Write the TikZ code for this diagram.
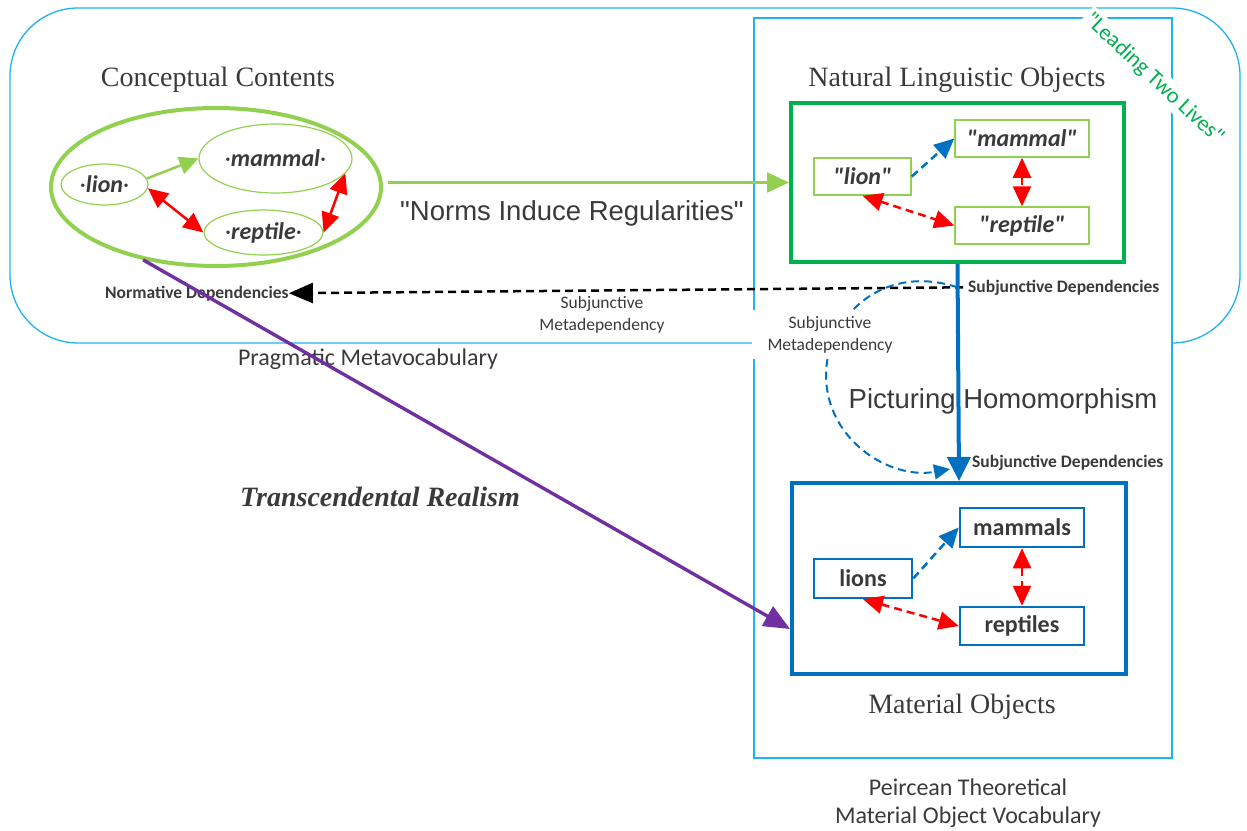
\documentclass[tikz,border=0pt]{standalone}
\usepackage{fontspec}
\setmainfont{Liberation Serif}
\newfontfamily\arialf{Liberation Sans}
\newfontfamily\calf{Carlito}
\usetikzlibrary{arrows.meta,shapes.geometric,calc}
\definecolor{lblue}{HTML}{20B2EE}
\definecolor{lgreen}{HTML}{92D050}
\definecolor{dgreen}{HTML}{00B050}
\definecolor{mblue}{HTML}{0070C0}
\definecolor{purp}{HTML}{7030A0}
\definecolor{txtgray}{HTML}{3A3A3A}
\newcommand{\mdot}{{\mdseries\upshape ·}}
\begin{document}
\begin{tikzpicture}[x=1pt,y=-1pt,
  bigtitle/.style={font=\fontsize{28}{30}\selectfont, text=txtgray, inner sep=0pt, anchor=base},
  arialtxt/.style={font=\arialf\fontsize{27.5}{30}\selectfont, text=txtgray, inner sep=0pt, anchor=base},
  caltxt/.style={font=\calf\fontsize{24}{28}\selectfont, text=txtgray, inner sep=0pt, anchor=base},
  smallbold/.style={font=\calf\bfseries\fontsize{17.5}{20}\selectfont, text=txtgray, inner sep=0pt},
  smallreg/.style={font=\calf\fontsize{17.5}{22}\selectfont, text=txtgray, align=center, inner sep=0pt},
  concept/.style={ellipse, draw=lgreen, line width=1.2pt, inner sep=0pt, font=\calf\bfseries\itshape\fontsize{24}{24}\selectfont, text=txtgray},
  wordbox/.style={rectangle, draw=lgreen, line width=1.5pt, inner sep=0pt, font=\calf\bfseries\itshape\fontsize{24}{24}\selectfont, text=txtgray},
  thingbox/.style={rectangle, draw=mblue, line width=2.5pt, inner sep=0pt, font=\calf\bfseries\fontsize{24}{24}\selectfont, text=txtgray},
  redtwo/.style={red, line width=2.5pt, {Triangle[length=20pt,width=18pt]}-{Triangle[length=20pt,width=18pt]}},
  reddash/.style={redtwo, dash pattern=on 8pt off 5pt},
  bluedash/.style={mblue, line width=2.5pt, dash pattern=on 8pt off 5pt, -{Triangle[length=20pt,width=18pt]}},
]
\useasboundingbox (0,0) rectangle (1247,830);

% containers
\draw[lblue, line width=1.3pt, rounded corners=68pt] (10,8) rectangle (1240,343);
\draw[lblue, line width=1.3pt, fill=white] (754,18) rectangle (1172,758);

% titles
\node[bigtitle] (cct) at (218,86) {Conceptual Contents};
\node[bigtitle] (nlot) at (957,86) {Natural Linguistic Objects};
\node[bigtitle] (mot) at (962,713) {Material Objects};
\node[bigtitle, font=\bfseries\itshape\fontsize{28}{30}\selectfont] (tr) at (380,506) {Transcendental Realism};
\node[caltxt] (pm) at (368,365) {Pragmatic Metavocabulary};
\node[caltxt] (pt1) at (968,795) {Peircean Theoretical};
\node[caltxt] (pt2) at (968,823) {Material Object Vocabulary};
\node[arialtxt] (nir) at (572,220) {"Norms Induce Regularities"};
\node[arialtxt] (ph) at (1003,408) {Picturing Homomorphism};

% conceptual contents
\node[ellipse, draw=lgreen, line width=4pt, minimum width=330pt, minimum height=158pt, inner sep=0pt] (cc) at (216,187) {};
\node[concept, minimum width=87pt, minimum height=41pt] (lionc) at (104.5,184.5) {\mdot lion\mdot};
\node[concept, minimum width=153pt, minimum height=69pt] (mammalc) at (275.5,158.5) {\mdot mammal\mdot};
\node[concept, minimum width=119pt, minimum height=45pt] (reptilec) at (263.5,232.5) {\mdot reptile\mdot};
\draw[lgreen, line width=2.5pt, -{Triangle[length=19pt,width=18pt]}] (lionc.8) -- (mammalc.west);
\draw[redtwo] (lionc.-5) -- (reptilec.west);
\draw[redtwo] (reptilec.east) -- (mammalc.-12);

% natural linguistic objects
\node[rectangle, draw=dgreen, line width=4pt, minimum width=333pt, minimum height=159pt] (nlo) at (957.5,182.5) {};
\node[wordbox, minimum width=97pt, minimum height=37pt] (lionw) at (862.5,176.5) {"lion"};
\node[wordbox, minimum width=134pt, minimum height=37pt] (mammalw) at (1022,138.5) {"mammal"};
\node[wordbox, minimum width=134pt, minimum height=37pt] (reptilew) at (1022,225.5) {"reptile"};
\draw[bluedash] (lionw.east) -- (mammalw.west);
\draw[reddash] (lionw.south) -- (reptilew.west);
\draw[reddash] (mammalw.south) -- (reptilew.north);

% material objects
\node[rectangle, draw=mblue, line width=4pt, minimum width=334pt, minimum height=191pt] (mo) at (959,578.5) {};
\node[thingbox, minimum width=98pt, minimum height=39pt] (lionm) at (863,578.5) {lions};
\node[thingbox, minimum width=124pt, minimum height=39pt] (mammalm) at (1022,527.5) {mammals};
\node[thingbox, minimum width=124pt, minimum height=38pt] (reptilem) at (1022,626) {reptiles};
\draw[bluedash] (lionm.east) -- (mammalm.west);
\draw[reddash] (lionm.south) -- (reptilem.west);
\draw[reddash] (mammalm.south) -- (reptilem.north);

% dependency labels
\node[smallbold, anchor=base west] (sd1) at (968,292) {Subjunctive Dependencies};
\node[smallbold, anchor=base west] (sd2) at (972,467) {Subjunctive Dependencies};
\node[smallbold, anchor=base west] (nd) at (105,298) {Normative Dependencies};
\node[smallreg] (smd1) at (602,315) {Subjunctive\\Metadependency};
\coordinate (loopstart) at (nlo.south |- sd1.west);

% connectors
\draw[lgreen, line width=2.5pt, -{Triangle[length=22pt,width=20pt]}] ([xshift=5pt]cc.east |- nlo.west) -- (nlo.west);
\draw[black, line width=2.5pt, dash pattern=on 8pt off 5pt, -{Triangle[length=24pt,width=20pt]}] ([xshift=-5pt]sd1.west) -- (nd.east);
\draw[mblue, line width=2pt, dash pattern=on 8pt off 5pt, -{Triangle[length=16pt,width=15pt]}] (loopstart) .. controls (880,262) and (826,320) .. (826,375) .. controls (826,440) and (890,480) .. (950,469);
\draw[mblue, line width=4pt, -{Triangle[length=24pt,width=23pt]}] (nlo.south) -- (mo.north);
\draw[purp, line width=3.4pt, -{Triangle[length=26pt,width=22pt]}] (cc.225) -- ([yshift=47pt]mo.south west);

% labels with white background
\node[smallreg, fill=white, inner xsep=16pt, inner ysep=6pt] (smd2) at (830,334.5) {Subjunctive\\Metadependency};
\node[font=\calf\fontsize{22.5}{24}\selectfont, text=dgreen, fill=white, inner sep=3pt, rotate=-43] (l2l) at (1154,79) {"Leading Two Lives"};
\end{tikzpicture}
\end{document}
